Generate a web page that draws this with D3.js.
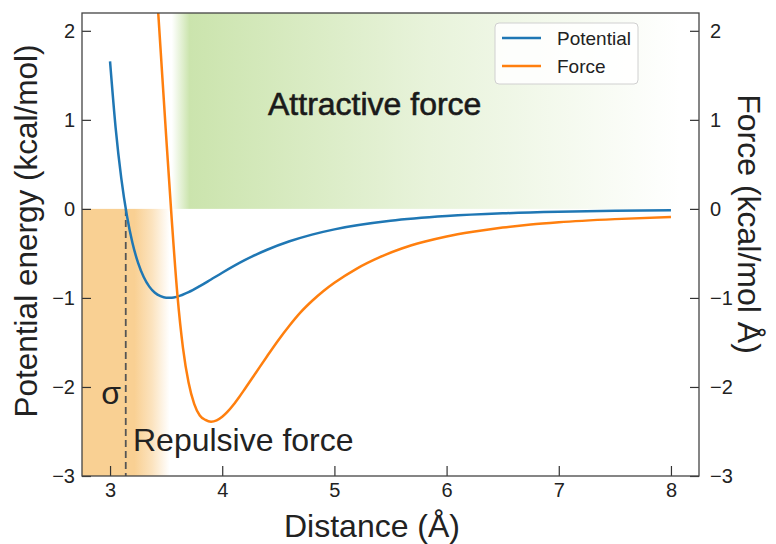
<!DOCTYPE html>
<html>
<head>
<meta charset="utf-8">
<script src="https://cdn.jsdelivr.net/npm/d3@7"></script>
<style>
  body { margin: 0; background: #fff; }
  svg { font-family: "Liberation Sans", Arial, sans-serif; }
</style>
</head>
<body>
<svg width="776" height="544"></svg>
<script>
// values
const distPot = [3.00, 3.05, 3.10, 3.15, 3.20, 3.25, 3.30, 3.35, 3.40, 3.45, 3.50, 3.55, 3.60,
                 3.70, 3.80, 3.90, 4.00, 4.20, 4.40, 4.60, 4.80, 5.00, 5.50, 6.00, 6.50, 7.00, 7.50, 8.00];
const potential = [1.656, 0.908, 0.345, -0.074, -0.383, -0.607, -0.765, -0.873, -0.942, -0.981, -0.998, -0.998, -0.986,
                   -0.936, -0.868, -0.793, -0.717, -0.576, -0.459, -0.364, -0.289, -0.230, -0.134, -0.081, -0.050, -0.032, -0.021, -0.015];

const distForce = [3.40, 3.45, 3.50, 3.55, 3.60, 3.65, 3.70, 3.75, 3.80, 3.85, 3.90, 3.95, 4.00, 4.05, 4.10, 4.15,
                   4.20, 4.30, 4.40, 4.50, 4.60, 4.70, 4.80, 4.90, 5.00, 5.20, 5.40, 5.60, 5.80, 6.00, 6.25, 6.50,
                   6.75, 7.00, 7.50, 8.00];
const force = [2.78, 1.80, 0.82, -0.12, -0.96, -1.56, -1.95, -2.19, -2.32, -2.37, -2.39, -2.375, -2.335, -2.275, -2.20, -2.115,
               -2.025, -1.84, -1.655, -1.475, -1.31, -1.16, -1.035, -0.925, -0.83, -0.67, -0.545, -0.445, -0.37, -0.31, -0.255, -0.21,
               -0.175, -0.15, -0.115, -0.09];

const xTicks = [3, 4, 5, 6, 7, 8];
const yTicks = [-3, -2, -1, 0, 1, 2];
const sigma = 3.14;
const repulsiveEnd = 3.53;
const attractiveRange = [3.55, 8.08];

const svg = d3.select('svg');
const x = d3.scaleLinear().domain([2.75, 8.25]).range([82, 699]);
const y = d3.scaleLinear().domain([-3, 2.2]).range([476, 13]);
const yR = d3.scaleLinear().domain([-3, 2.2]).range([476, 13]);

const defs = svg.append('defs');
defs.append('clipPath').attr('id', 'plot')
  .append('rect').attr('x', 82).attr('y', 13).attr('width', 617).attr('height', 463);

let gOr = defs.append('linearGradient').attr('id', 'rep').attr('x1', 0).attr('x2', 1).attr('y1', 0).attr('y2', 0);
[[0, 1], [0.6, 1], [0.8, 0.6], [1, 0]].forEach(s =>
  gOr.append('stop').attr('offset', s[0]).attr('stop-color', '#f9d093').attr('stop-opacity', s[1]));

let gGr = defs.append('linearGradient').attr('id', 'att').attr('x1', 0).attr('x2', 1).attr('y1', 0).attr('y2', 0);
[[0, 0], [0.035, 1], [0.5, 0.45], [1, 0]].forEach(s =>
  gGr.append('stop').attr('offset', s[0]).attr('stop-color', '#cbe4ad').attr('stop-opacity', s[1]));

const plot = svg.append('g').attr('clip-path', 'url(#plot)');

plot.append('rect')
  .attr('x', x(2.75)).attr('y', y(0))
  .attr('width', x(repulsiveEnd) - x(2.75)).attr('height', y(-3) - y(0))
  .attr('fill', 'url(#rep)');

plot.append('rect')
  .attr('x', x(attractiveRange[0])).attr('y', y(2.2))
  .attr('width', x(attractiveRange[1]) - x(attractiveRange[0])).attr('height', y(0) - y(2.2))
  .attr('fill', 'url(#att)');

plot.append('line')
  .attr('x1', x(sigma)).attr('x2', x(sigma)).attr('y1', y(0)).attr('y2', y(-3))
  .attr('stroke', '#555').attr('stroke-width', 1.8).attr('stroke-dasharray', '7,4');

const linePot = d3.line().x((d, i) => x(distPot[i])).y(d => y(d)).curve(d3.curveMonotoneX);
const lineForce = d3.line().x((d, i) => x(distForce[i])).y(d => yR(d)).curve(d3.curveMonotoneX);

plot.append('path').datum(potential).attr('d', linePot)
  .attr('fill', 'none').attr('stroke', '#1f77b4').attr('stroke-width', 2.5);
plot.append('path').datum(force).attr('d', lineForce)
  .attr('fill', 'none').attr('stroke', '#ff7f0e').attr('stroke-width', 2.5);

// axes
const fmt = d3.format('d');
const axL = svg.append('g').attr('transform', 'translate(82,0)')
  .call(d3.axisLeft(y).tickValues(yTicks).tickFormat(fmt).tickSize(-9).tickPadding(7));
const axR = svg.append('g').attr('transform', 'translate(699,0)')
  .call(d3.axisRight(yR).tickValues(yTicks).tickFormat(fmt).tickSize(-9).tickPadding(11));
const axB = svg.append('g').attr('transform', 'translate(0,476)')
  .call(d3.axisBottom(x).tickValues(xTicks).tickFormat(fmt).tickSize(-10).tickPadding(7));

[axL, axR, axB].forEach(a => {
  a.select('.domain').remove();
  a.selectAll('line').attr('stroke', '#333').attr('stroke-width', 1.2);
  a.selectAll('text').attr('font-size', 20).attr('fill', '#222').attr('font-family', '"Liberation Sans", Arial, sans-serif');
});

svg.append('rect').attr('x', 82).attr('y', 13).attr('width', 617).attr('height', 463)
  .attr('fill', 'none').attr('stroke', '#444').attr('stroke-width', 1.3);

// labels
svg.append('text').attr('transform', 'translate(37,231) rotate(-90)')
  .attr('text-anchor', 'middle').attr('font-size', 31.5).attr('fill', '#222')
  .text('Potential energy (kcal/mol)');
svg.append('text').attr('transform', 'translate(738,224) rotate(90)')
  .attr('text-anchor', 'middle').attr('font-size', 32).attr('fill', '#222')
  .text('Force (kcal/mol Å)');
svg.append('text').attr('x', 372).attr('y', 537)
  .attr('text-anchor', 'middle').attr('font-size', 32).attr('fill', '#222')
  .text('Distance (Å)');

svg.append('text').attr('x', 268).attr('y', 115)
  .attr('font-size', 32).attr('fill', '#1a1a1a').attr('stroke', '#1a1a1a').attr('stroke-width', 0.6)
  .text('Attractive force');
svg.append('text').attr('x', 133).attr('y', 451)
  .attr('font-size', 32).attr('fill', '#222')
  .text('Repulsive force');
svg.append('text').attr('x', 111).attr('y', 404).attr('text-anchor', 'middle')
  .attr('font-size', 32).attr('fill', '#222')
  .text('σ');

// legend
const leg = svg.append('g');
leg.append('rect').attr('x', 495).attr('y', 23).attr('width', 143).attr('height', 61).attr('rx', 4)
  .attr('fill', '#fff').attr('fill-opacity', 0.85).attr('stroke', '#d0d0d0');
[['Potential', '#1f77b4'], ['Force', '#ff7f0e']].forEach((d, i) => {
  leg.append('line').attr('x1', 502).attr('x2', 541).attr('y1', 38 + i * 28).attr('y2', 38 + i * 28)
    .attr('stroke', d[1]).attr('stroke-width', 2.5);
  leg.append('text').attr('x', 557).attr('y', 45 + i * 28).attr('font-size', 19).attr('fill', '#222').text(d[0]);
});
</script>
</body>
</html>
